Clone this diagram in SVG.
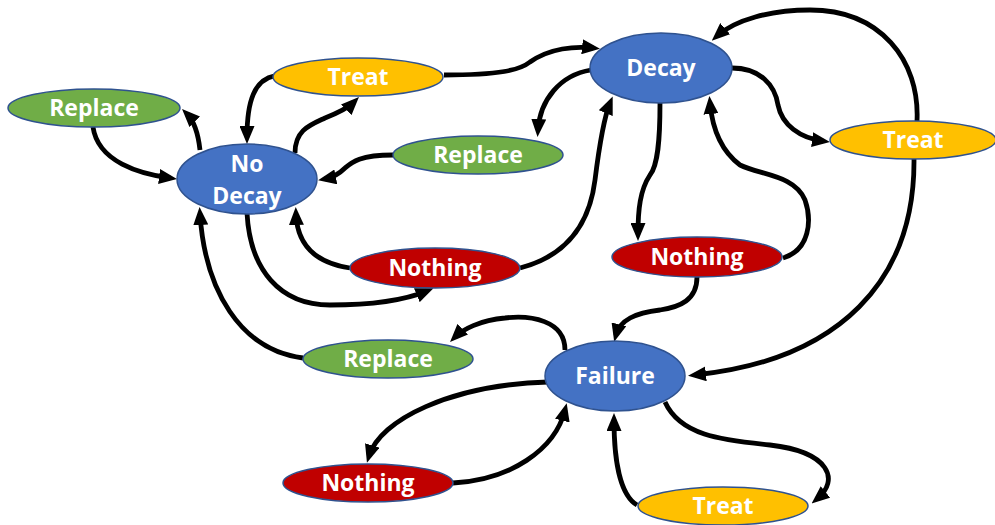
<svg xmlns="http://www.w3.org/2000/svg" width="995" height="525" viewBox="0 0 995 525">
<defs>
<marker id="ah" viewBox="0 0 18 15" refX="11" refY="7.5" markerWidth="18" markerHeight="15" markerUnits="userSpaceOnUse" orient="auto">
<path d="M0,0 L18,7.5 L0,15 z" fill="#000"/>
</marker>
</defs>
<style>
.n ellipse{stroke:#2F528F;stroke-width:1.5}
.blue ellipse{fill:#4472C4}
.green ellipse{fill:#70AD47}
.yellow ellipse{fill:#FFC000}
.red ellipse{fill:#C00000}
.n text{fill:#fff;font-family:"Open Sans","Liberation Sans",sans-serif;font-weight:bold;font-size:23px;text-anchor:middle}
#edges path{fill:none;stroke:#000;stroke-width:4.8;marker-end:url(#ah)}
</style>
<rect width="995" height="525" fill="#fff"/>
<g id="edges">
<path d="M93,127 C98,162 140,174 170,178"/>
<path d="M200,150 C198,132 193,120 187,114"/>
<path d="M274,76 C255,80 247,100 247,137"/>
<path d="M295,153 C295,130 310,125 325,118 C340,112 350,106 354,102"/>
<path d="M444,75 C500,75 520,70 530,62 C550,48 575,46 593,48"/>
<path d="M591,70 C560,75 540,100 538,130"/>
<path d="M393,155 C360,155 352,162 345,168 C338,175 330,178 325,179"/>
<path d="M350,268 C310,262 297,240 296,214"/>
<path d="M247,213 C250,270 280,305 330,305 C380,305 410,298 427,291"/>
<path d="M303,358 C240,350 205,290 200,214"/>
<path d="M520,268 C570,255 590,220 595,180 C600,140 605,115 610,103"/>
<path d="M660,103 C660,140 658,165 650,175 C640,190 638,210 638,234"/>
<path d="M783,258 C810,250 812,220 805,200 C795,175 760,175 740,165 C720,150 712,125 710,103"/>
<path d="M732,68 C760,68 775,85 778,105 C782,125 800,138 823,141"/>
<path d="M917,121 C920,60 880,10 810,10 C770,10 735,20 717,36"/>
<path d="M914,159 C915,280 840,360 695,375"/>
<path d="M697,277 C697,300 680,307 660,310 C635,313 620,320 616,335"/>
<path d="M565,350 C565,320 530,315 505,318 C480,320 462,330 455,337"/>
<path d="M548,382 C450,385 380,420 369,456"/>
<path d="M453,483 C510,480 555,450 565,410"/>
<path d="M637,505 C620,495 614,460 614,420"/>
<path d="M665,402 C680,435 720,440 770,445 C830,452 840,480 817,499"/>
</g>
<g id="replace1" class="n green"><ellipse cx="94" cy="108" rx="86" ry="19"/><text x="94" y="116">Replace</text></g>
<g id="nodecay" class="n blue"><ellipse cx="247" cy="179" rx="70" ry="35"/><text x="247" y="172">No</text><text x="247" y="204">Decay</text></g>
<g id="treat1" class="n yellow"><ellipse cx="358" cy="77" rx="85" ry="19"/><text x="358" y="85">Treat</text></g>
<g id="replace2" class="n green"><ellipse cx="478" cy="155" rx="85" ry="19"/><text x="478" y="163">Replace</text></g>
<g id="decay" class="n blue"><ellipse cx="661" cy="68" rx="71" ry="35"/><text x="661" y="76">Decay</text></g>
<g id="treat2" class="n yellow"><ellipse cx="913" cy="140" rx="83" ry="19"/><text x="913" y="148">Treat</text></g>
<g id="nothing1" class="n red"><ellipse cx="435" cy="268" rx="85" ry="20"/><text x="435" y="276">Nothing</text></g>
<g id="nothing2" class="n red"><ellipse cx="697" cy="257" rx="85" ry="20"/><text x="697" y="265">Nothing</text></g>
<g id="replace3" class="n green"><ellipse cx="388" cy="359" rx="85" ry="19"/><text x="388" y="367">Replace</text></g>
<g id="failure" class="n blue"><ellipse cx="615" cy="376" rx="70" ry="35"/><text x="615" y="384">Failure</text></g>
<g id="nothing3" class="n red"><ellipse cx="368" cy="483" rx="85" ry="19"/><text x="368" y="491">Nothing</text></g>
<g id="treat3" class="n yellow"><ellipse cx="723" cy="506" rx="85" ry="19"/><text x="723" y="514">Treat</text></g>
</svg>
